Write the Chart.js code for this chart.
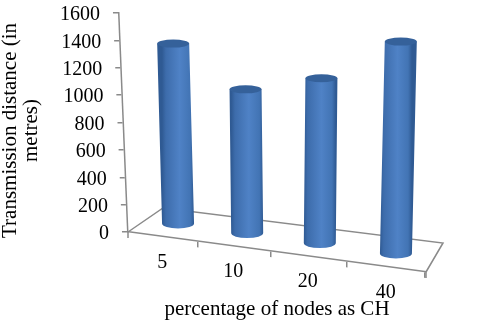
<!DOCTYPE html>
<html>
<head>
<meta charset="utf-8">
<title>Transmission distance</title>
<script src="https://cdn.jsdelivr.net/npm/chart.js@4"></script>
<style>
  html, body { margin: 0; padding: 0; background: #fff; }
  canvas { display: block; }
</style>
</head>
<body>
<canvas id="grafico" width="477" height="320"></canvas>
<script>
// data
const categories = ['5', '10', '20', '40'];
const distances = [1405, 1065, 1160, 1420];
const yTitleLines = ['Transmission distance (in', 'metres)'];
const xTitle = 'percentage of nodes as CH';

const FONT = 'Liberation Serif';
const AXIS_GREY = '#8a8a8a';
const yLean = 9 / 219;    // left wall axis leans back going up
const xSlope = 40 / 298;  // floor front edge drops going right

// y axis that leans to the left, text stays upright
class SlantLinear extends Chart.LinearScale {
  static id = 'slantLinear';
  shear(draw) {
    const ctx = this.ctx;
    ctx.save();
    ctx.transform(1, 0, yLean, 1, -yLean * this.bottom, 0);
    draw();
    ctx.restore();
  }
  drawGrid(area) { this.shear(() => super.drawGrid(area)); }
  drawBorder() { this.shear(() => super.drawBorder()); }
  drawTitle() {
    this.ctx.save();
    this.ctx.translate(0, 8);
    super.drawTitle();
    this.ctx.restore();
  }
  _computeLabelItems(area) {
    const items = super._computeLabelItems(area);
    items.forEach(it => {
      const t = it.options.translation;
      t[0] += yLean * (t[1] - this.bottom);
      t[1] += 2;
    });
    return items;
  }
}

// category axis along the sloping floor edge, slightly wider spacing to the right
class SlantCategory extends Chart.CategoryScale {
  static id = 'slantCategory';
  getPixelForDecimal(d) {
    return super.getPixelForDecimal(d - 0.094 * d * (1 - d));
  }
  shear(draw) {
    const ctx = this.ctx;
    ctx.save();
    ctx.transform(1, xSlope, 0, 1, 0, -xSlope * this.left);
    draw();
    ctx.restore();
  }
  drawGrid(area) { this.shear(() => super.drawGrid(area)); }
  drawBorder() { this.shear(() => super.drawBorder()); }
  _computeLabelItems(area) {
    const items = super._computeLabelItems(area);
    items.forEach(it => {
      const t = it.options.translation;
      t[1] += xSlope * (t[0] - this.left);
    });
    return items;
  }
}

Chart.register(SlantLinear, SlantCategory);

// floor outline behind the bars
const floorPlugin = {
  id: 'floor',
  beforeDatasetsDraw(chart) {
    const { ctx, chartArea: a } = chart;
    const yRight = a.bottom + xSlope * (a.right - a.left);
    ctx.save();
    ctx.strokeStyle = AXIS_GREY;
    ctx.lineWidth = 1.5;
    ctx.beginPath();
    ctx.moveTo(a.left, a.bottom);
    ctx.lineTo(a.left + 35, a.bottom - 24);
    ctx.lineTo(a.right + 17, yRight - 29);
    ctx.lineTo(a.right, yRight);
    // end ticks of the front edge
    ctx.moveTo(a.left, a.bottom);
    ctx.lineTo(a.left, a.bottom + 6);
    ctx.moveTo(a.right, yRight);
    ctx.lineTo(a.right, yRight + 6);
    ctx.stroke();
    ctx.restore();
  }
};

// paints each bar of the dataset as a cylinder standing on the floor
const cylinderPlugin = {
  id: 'cylinder',
  afterDatasetsDraw(chart) {
    const { ctx, chartArea: a } = chart;
    chart.getDatasetMeta(0).data.forEach((bar, i) => {
      const d = (i + 0.5) / categories.length;
      const persp = 0.914 + 0.207 * d;
      const w = bar.width;
      const bx = bar.x + 16.8 - 7.5 * d;
      const by = a.bottom + xSlope * (bar.x - a.left) - 13;
      const tx = bx + (d - 0.5) * 13;
      const ty = by - (bar.base - bar.y) * persp;
      const r = w / 2;

      const g = ctx.createLinearGradient(bx - r, 0, bx + r, 0);
      g.addColorStop(0, '#2f5a93');
      g.addColorStop(0.12, '#3d6cab');
      g.addColorStop(0.55, '#4f82c6');
      g.addColorStop(0.88, '#4274b4');
      g.addColorStop(1, '#2f5a93');

      ctx.save();
      ctx.fillStyle = g;
      ctx.beginPath();
      ctx.moveTo(tx - r, ty);
      ctx.lineTo(bx - r, by);
      ctx.ellipse(bx, by, r, 5, 0, Math.PI, 0, true);
      ctx.lineTo(tx + r, ty);
      ctx.closePath();
      ctx.fill();

      ctx.fillStyle = '#35619a';
      ctx.beginPath();
      ctx.ellipse(tx, ty, r, 4, 0, 0, Math.PI * 2);
      ctx.fill();
      ctx.restore();
    });
  }
};

new Chart(document.getElementById('grafico'), {
  type: 'bar',
  data: {
    labels: categories,
    datasets: [{
      data: distances,
      backgroundColor: 'rgba(0,0,0,0)',
      barThickness: 32
    }]
  },
  plugins: [floorPlugin, cylinderPlugin],
  options: {
    responsive: false,
    animation: false,
    layout: { autoPadding: false, padding: { top: 13, right: 51, left: 0, bottom: 0 } },
    plugins: { legend: { display: false }, tooltip: { enabled: false } },
    scales: {
      x: {
        type: 'slantCategory',
        afterFit(scale) { scale.height = 88; scale.paddingLeft = 0; scale.paddingRight = 0; },
        grid: { drawOnChartArea: false, color: AXIS_GREY, lineWidth: 1.5, tickLength: 6 },
        border: { color: AXIS_GREY, width: 1.5 },
        ticks: { color: '#000', font: { family: FONT, size: 20 }, padding: 8, maxRotation: 0, autoSkip: false },
        title: { display: true, text: xTitle, color: '#000', font: { family: FONT, size: 21, lineHeight: 1 }, padding: { top: 0, bottom: 0 } }
      },
      y: {
        type: 'slantLinear',
        min: 0,
        max: 1600,
        afterFit(scale) { scale.width = 128; scale.paddingTop = 0; scale.paddingBottom = 0; },
        grid: { drawOnChartArea: false, color: AXIS_GREY, lineWidth: 1.5, tickLength: 6 },
        border: { color: AXIS_GREY, width: 1.5 },
        ticks: { stepSize: 200, autoSkip: false, color: '#000', font: { family: FONT, size: 20 }, padding: 13, callback: v => String(v) },
        title: { display: true, text: yTitleLines, color: '#000', font: { family: FONT, size: 21, lineHeight: 1 }, padding: { top: 0, bottom: 0 } }
      }
    }
  }
});
</script>
</body>
</html>
